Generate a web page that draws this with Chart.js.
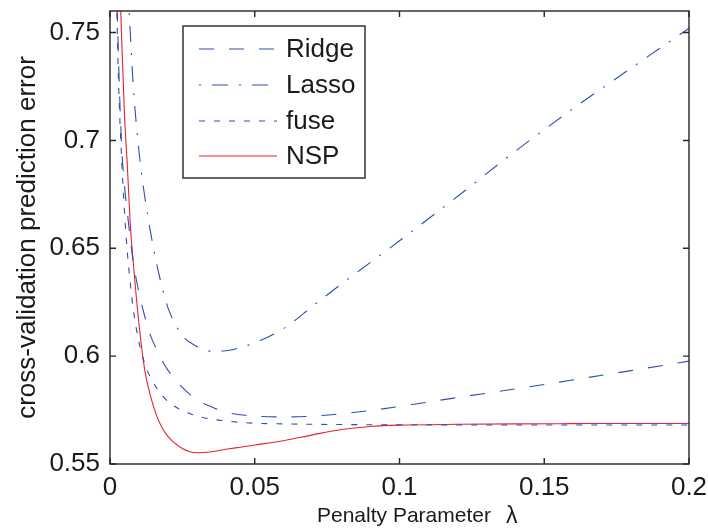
<!DOCTYPE html>
<html><head><meta charset="utf-8">
<script src="https://cdn.jsdelivr.net/npm/chart.js@4/dist/chart.umd.min.js"></script>
<style>html,body{margin:0;padding:0;background:#fff}#wrap{width:708px;height:530px}</style>
</head><body><div id="wrap"><canvas id="c" width="708" height="530"></canvas></div>
<script>
const lambdas = [0.002,0.003,0.004,0.005,0.006,0.007,0.008,0.01,0.012,0.014,0.016,0.018,0.02,0.025,0.03,0.035,0.04,0.045,0.05,0.06,0.07,0.08,0.09,0.1,0.12,0.14,0.16,0.18,0.2];
const ridge = [0.79,0.735,0.698,0.679,0.6665,0.6545,0.644,0.6295,0.6185,0.6095,0.6035,0.598,0.5935,0.5855,0.5798,0.5765,0.574,0.5728,0.5722,0.5718,0.5722,0.5733,0.5748,0.5767,0.5808,0.5848,0.589,0.5933,0.5977];
const lasso = [1.0,0.92,0.86,0.81,0.775,0.75,0.726,0.695,0.674,0.6575,0.6435,0.632,0.6225,0.6095,0.6045,0.6023,0.6025,0.604,0.6062,0.6128,0.6232,0.6335,0.6435,0.6535,0.674,0.695,0.7148,0.7335,0.752];
const fuse = [0.78,0.725,0.692,0.667,0.648,0.634,0.622,0.6065,0.5965,0.59,0.5855,0.5818,0.579,0.5748,0.5723,0.5708,0.57,0.5693,0.5689,0.5686,0.5684,0.5683,0.5682,0.5682,0.5681,0.5681,0.5681,0.5681,0.5681];
const nsp = [0.84,0.79,0.748,0.712,0.688,0.661,0.644,0.615,0.5935,0.5815,0.5728,0.5668,0.5628,0.5572,0.5552,0.5557,0.5568,0.5578,0.5588,0.5608,0.5635,0.566,0.5674,0.568,0.5684,0.5686,0.5687,0.5688,0.5688];
const seriesNames = ['Ridge','Lasso','fuse','NSP'];
const xTicks = [0,0.05,0.1,0.15,0.2];
const yTicks = [0.55,0.6,0.65,0.7,0.75];
const xTitle = 'Penalty Parameter';
const xTitleSymbol = 'λ';
const yTitle = 'cross-validation prediction error';

const FONT = "'Liberation Sans', Arial, Helvetica, sans-serif";
const TXT = '#1a1a1a';
const BLUE = '#2f4fb2';
const RED = '#e8242b';

function pts(arr){ return lambdas.map((x,i)=>({x:x,y:arr[i]})); }

const styles = [
  {color:BLUE, dash:[15,15]},
  {color:BLUE, dash:[2,11,16,11]},
  {color:BLUE, dash:[6,9]},
  {color:RED, dash:[]}
];
const seriesData = [ridge, lasso, fuse, nsp];

const datasets = seriesData.map((d,i)=>({
  label: seriesNames[i],
  data: pts(d),
  borderColor: styles[i].color,
  borderDash: styles[i].dash,
  borderWidth: 1.1,
  pointRadius: 0,
  fill: false,
  cubicInterpolationMode: 'monotone'
}));

function noPad(s){ s.paddingTop = 0; s.paddingBottom = 0; s.paddingLeft = 0; s.paddingRight = 0; }

const framePlugin = {
  id: 'frame',
  afterDatasetsDraw(chart){
    const {ctx, chartArea:{left,right,top,bottom}, scales:{x,y}} = chart;
    ctx.save();
    ctx.strokeStyle = '#262626';
    ctx.lineWidth = 1.4;
    ctx.setLineDash([]);
    ctx.strokeRect(left, top, right-left, bottom-top);
    const tl = 6;
    ctx.beginPath();
    xTicks.forEach(v=>{ const px = x.getPixelForValue(v);
      ctx.moveTo(px,bottom); ctx.lineTo(px,bottom-tl);
      ctx.moveTo(px,top); ctx.lineTo(px,top+tl); });
    yTicks.forEach(v=>{ const py = y.getPixelForValue(v);
      ctx.moveTo(left,py); ctx.lineTo(left+tl,py);
      ctx.moveTo(right,py); ctx.lineTo(right-tl,py); });
    ctx.stroke();

    // legend
    const bx = left + 73, by = top + 15, bw = 182, bh = 152;
    ctx.fillStyle = '#fff';
    ctx.fillRect(bx, by, bw, bh);
    ctx.strokeStyle = '#262626';
    ctx.lineWidth = 1.4;
    ctx.strokeRect(bx, by, bw, bh);
    const rows = [23, 59, 95, 130];
    chart.data.datasets.forEach((ds,i)=>{
      const cy = by + rows[i];
      ctx.strokeStyle = ds.borderColor;
      ctx.lineWidth = ds.borderWidth;
      ctx.setLineDash(ds.borderDash);
      ctx.beginPath();
      ctx.moveTo(bx+16, cy); ctx.lineTo(bx+94, cy);
      ctx.stroke();
      ctx.setLineDash([]);
      ctx.fillStyle = TXT;
      ctx.font = '26px ' + FONT;
      ctx.textAlign = 'left';
      ctx.textBaseline = 'middle';
      ctx.fillText(ds.label, bx+103, cy+1);
    });

    // x title
    ctx.fillStyle = TXT;
    ctx.textBaseline = 'alphabetic';
    ctx.textAlign = 'left';
    ctx.font = '21px ' + FONT;
    ctx.fillText(xTitle, 317, 522);
    ctx.font = '23px ' + FONT;
    ctx.fillText(xTitleSymbol, 506, 523);
    ctx.restore();
  }
};

new Chart(document.getElementById('c'), {
  type: 'line',
  data: { datasets },
  options: {
    responsive: false,
    animation: false,
    devicePixelRatio: 1,
    layout: { padding: { top: 11, right: 19, left: 0, bottom: 0 } },
    plugins: { legend: { display: false }, tooltip: { enabled: false } },
    scales: {
      x: {
        type: 'linear', min: 0, max: 0.2,
        afterBuildTicks: s => { s.ticks = xTicks.map(v=>({value:v})); },
        afterFit: s => { s.height = 66; noPad(s); },
        grid: { display: false, drawTicks: false },
        border: { display: false },
        ticks: { font: { family: FONT, size: 26 }, color: TXT, padding: 8, maxRotation: 0, autoSkip: false,
                 callback: v => String(v) }
      },
      y: {
        type: 'linear', min: 0.55, max: 0.76,
        afterBuildTicks: s => { s.ticks = yTicks.map(v=>({value:v})); },
        afterFit: s => { s.width = 110; noPad(s); },
        grid: { display: false, drawTicks: false },
        border: { display: false },
        ticks: { font: { family: FONT, size: 26 }, color: TXT, padding: 10, autoSkip: false,
                 callback: v => String(+v.toFixed(2)) },
        title: { display: true, text: yTitle, color: TXT, font: { family: FONT, size: 26 }, padding: { top: 12, bottom: 0 } }
      }
    }
  },
  plugins: [framePlugin]
});
</script></body></html>
